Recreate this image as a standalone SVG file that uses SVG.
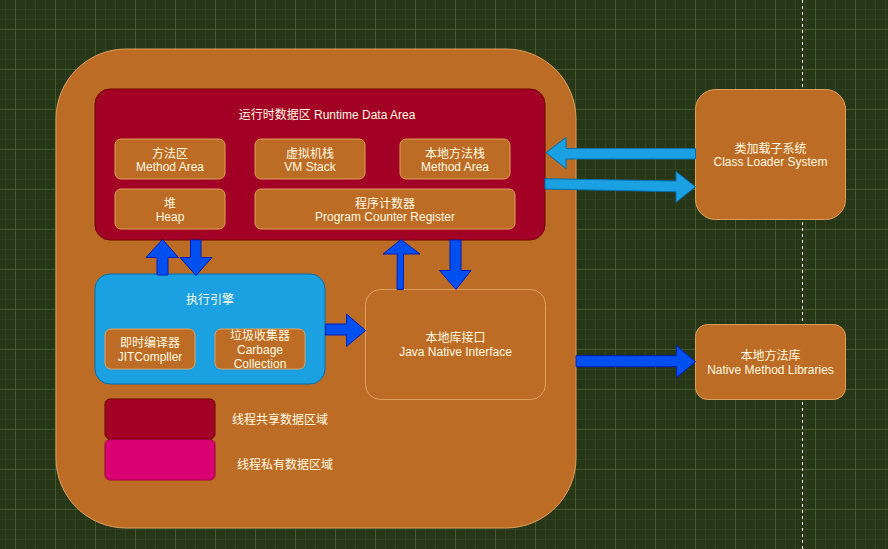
<svg xmlns="http://www.w3.org/2000/svg" width="888" height="549" viewBox="0 0 888 549">
  <defs>
    <pattern id="grid" x="15" y="29" width="40" height="40" patternUnits="userSpaceOnUse">
      <path d="M10.5 0V40M20.5 0V40M30.5 0V40M0 10.5H40M0 20.5H40M0 30.5H40" stroke="#2f4021" stroke-width="1" fill="none"/>
      <path d="M0.5 0V40M0 0.5H40" stroke="#45592f" stroke-width="1" fill="none"/>
    </pattern>
    <style>
      .org { fill: #BC6C25; stroke: #DDA15E; stroke-width: 1; }
      .red { fill: #A20025; stroke: #6F0000; stroke-width: 1; }
      .pink { fill: #D80073; stroke: #A50040; stroke-width: 1; }
      .lblue { fill: #1BA1E2; stroke: #006EAF; stroke-width: 1; }
      .blue { fill: #0050EF; stroke: #001DBC; stroke-width: 1; }
      .open { fill: none; stroke: #DDA15E; stroke-width: 1; }
      text { font-family: "Liberation Sans", Arial, "Noto Sans CJK SC", sans-serif; font-size: 12px; fill: #FEFAE0; text-anchor: middle; }
    </style>
  </defs>

  <!-- canvas background with grid -->
  <rect width="888" height="549" fill="#283618"/>
  <rect width="888" height="549" fill="url(#grid)"/>
  <line x1="802.5" y1="0" x2="802.5" y2="549" stroke="#ffffff" stroke-width="1" stroke-dasharray="3 3"/>

  <!-- JVM outer container -->
  <g id="jvm">
    <rect class="org" x="56" y="49" width="520" height="479" rx="70" ry="70"/>
  </g>

  <!-- Runtime data area -->
  <g id="runtime-data-area">
    <rect class="red" x="95" y="89" width="450" height="151" rx="15" ry="15"/>
    <text x="327" y="119">运行时数据区 Runtime Data Area</text>
  </g>
  <g id="method-area">
    <rect class="org" x="115" y="139" width="110" height="40" rx="6"/>
    <text x="170" y="157.5">方法区</text>
    <text x="170" y="171">Method Area</text>
  </g>
  <g id="vm-stack">
    <rect class="org" x="255" y="139" width="110" height="40" rx="6"/>
    <text x="310" y="157.5">虚拟机栈</text>
    <text x="310" y="171">VM Stack</text>
  </g>
  <g id="native-method-stack">
    <rect class="org" x="400" y="139" width="110" height="40" rx="6"/>
    <text x="455" y="157.5">本地方法栈</text>
    <text x="455" y="171">Method Area</text>
  </g>
  <g id="heap">
    <rect class="org" x="115" y="189" width="110" height="40" rx="6"/>
    <text x="170" y="207.5">堆</text>
    <text x="170" y="221">Heap</text>
  </g>
  <g id="pc-register">
    <rect class="org" x="255" y="189" width="260" height="40" rx="6"/>
    <text x="385" y="207.5">程序计数器</text>
    <text x="385" y="221">Program Counter Register</text>
  </g>

  <!-- Execution engine -->
  <g id="execution-engine">
    <rect class="lblue" x="95" y="274" width="230" height="110" rx="15" ry="15"/>
    <text x="210" y="304">执行引擎</text>
  </g>
  <g id="jit-compiler">
    <rect class="org" x="105" y="329" width="90" height="40" rx="6"/>
    <text x="150" y="346.5">即时编译器</text>
    <text x="150" y="361">JITCompller</text>
  </g>
  <g id="garbage-collection">
    <rect class="org" x="215" y="329" width="90" height="40" rx="6"/>
    <text x="260" y="339.5">垃圾收集器</text>
    <text x="260" y="353.5">Carbage</text>
    <text x="260" y="367.5">Collection</text>
  </g>

  <!-- Native interface -->
  <g id="jni">
    <rect class="open" x="365.5" y="289.5" width="180" height="110" rx="15" ry="15"/>
    <text x="455.5" y="342">本地库接口</text>
    <text x="455.5" y="356">Java Native Interface</text>
  </g>

  <!-- Legend -->
  <g id="legend-shared">
    <rect class="red" x="105" y="399" width="110" height="40" rx="5"/>
    <text x="280" y="424">线程共享数据区域</text>
  </g>
  <g id="legend-private">
    <rect class="pink" x="105" y="439.5" width="110" height="40.5" rx="5"/>
    <text x="285" y="469">线程私有数据区域</text>
  </g>

  <!-- External subsystems -->
  <g id="class-loader">
    <rect class="org" x="695.5" y="89.5" width="150" height="130" rx="20" ry="20"/>
    <text x="770.5" y="152.5">类加载子系统</text>
    <text x="770.5" y="166">Class Loader System</text>
  </g>
  <g id="native-libraries">
    <rect class="org" x="695.5" y="324.5" width="150" height="75" rx="12" ry="12"/>
    <text x="770.5" y="360">本地方法库</text>
    <text x="770.5" y="373.5">Native Method Libraries</text>
  </g>

  <!-- Connectors (block arrows) -->
  <g id="connectors">
    <polygon class="blue" points="157,275 157,257.5 146,257.5 162.5,239.5 178.5,257.5 168,257.5 168,275"/>
    <polygon class="blue" points="190.5,240 201,240 201,257.5 212,257.5 196,275.5 180,257.5 190.5,257.5"/>
    <polygon class="blue" points="397,289.5 397.3,254 383,254 401,239.5 420,254 403.5,254 403.3,289.5"/>
    <polygon class="blue" points="450,240 461,240 461,270.5 471,270.5 456,289.5 439.5,270.5 450,270.5"/>
    <polygon class="blue" points="325.5,324 346.5,324 346.5,314 365.5,330.5 346.5,346.5 346.5,335 325.5,335"/>
    <polygon class="lblue" points="695.5,148.5 566,148.5 566,137.5 546,152.7 566,168.5 566,159 695.5,159"/>
    <polygon class="lblue" points="545,178.7 676,181 676,171.5 695.5,186.8 676,202.3 676,191.8 545,189"/>
    <polygon class="blue" points="576,355.7 676.5,355.7 676.5,345.7 695.5,361.7 676.5,377.5 676.5,366.7 576,366.7"/>
  </g>
</svg>
